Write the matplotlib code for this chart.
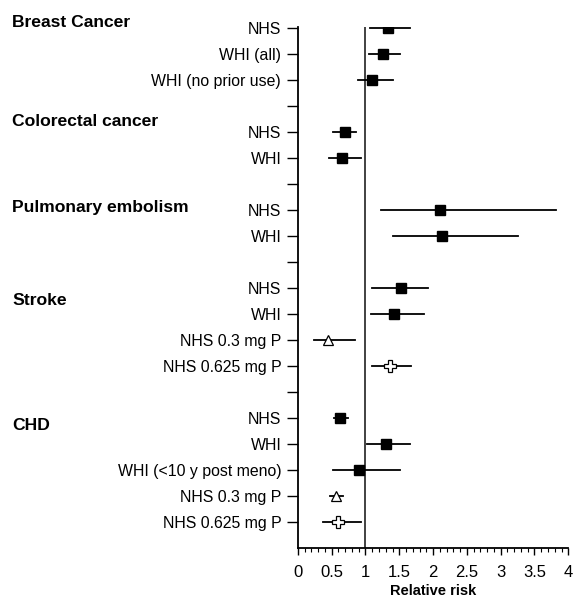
import numpy as np
import matplotlib.pyplot as plt
from matplotlib.ticker import MultipleLocator

plt.rcParams['font.family'] = ['Liberation Sans', 'DejaVu Sans']

# row labels (top to bottom), blank = spacer row
rows = ['NHS', 'WHI (all)', 'WHI (no prior use)', '',
        'NHS', 'WHI', '',
        'NHS', 'WHI', '',
        'NHS', 'WHI', 'NHS 0.3 mg P', 'NHS 0.625 mg P', '',
        'NHS', 'WHI', 'WHI (<10 y post meno)', 'NHS 0.3 mg P', 'NHS 0.625 mg P']

# estimates and confidence limits (None for spacer rows)
rr = [1.33, 1.26, 1.09, None, 0.70, 0.65, None, 2.10, 2.13, None,
      1.53, 1.42, 0.44, 1.36, None, 0.62, 1.30, 0.90, 0.56, 0.59]
lo = [1.07, 1.05, 0.89, None, 0.52, 0.46, None, 1.23, 1.41, None,
      1.10, 1.08, 0.24, 1.10, None, 0.53, 1.02, 0.52, 0.47, 0.37]
hi = [1.66, 1.51, 1.41, None, 0.86, 0.93, None, 3.82, 3.26, None,
      1.93, 1.87, 0.84, 1.67, None, 0.74, 1.66, 1.51, 0.67, 0.93]
kind = ['s', 's', 's', None, 's', 's', None, 's', 's', None,
        's', 's', '^', 'P', None, 's', 's', 's', '^', 'P']

groups = ['Breast Cancer', 'Colorectal cancer', 'Pulmonary embolism', 'Stroke', 'CHD']
group_rows = [0.8, 4.6, 7.9, 11.5, 16.3]

xticks = np.arange(0, 4.01, 0.5)
xlabels = ['0', '0.5', '1', '1.5', '2', '2.5', '3', '3.5', '4']

fig = plt.figure(figsize=(5.74, 5.97), dpi=100)
ax = fig.add_axes([0.519, 0.082, 0.471, 0.873])

ypos = np.arange(1, len(rows) + 1)
for y, r, l, h, k in zip(ypos, rr, lo, hi, kind):
    if r is None:
        continue
    ax.plot([l, h], [y, y], color='black', lw=1.3, zorder=2)
    if k == 's':
        ax.plot(r, y, marker='s', ms=6.5, color='black', zorder=3)
    elif k == '^':
        ax.plot(r, y, marker='^', ms=7, mfc='white', mec='black', mew=0.9, zorder=3)
    else:
        ax.plot(r, y, marker='P', ms=8, mfc='white', mec='black', mew=0.9, zorder=3)

ax.axvline(1, color='#333333', lw=1.3, zorder=1)

ax.set_xlim(0, 4)
ax.set_ylim(21, 0.96)
ax.set_yticks(ypos)
ax.set_yticklabels(rows, fontsize=11.4)
ax.set_xticks(xticks)
ax.set_xticklabels(xlabels, fontsize=12)
ax.xaxis.set_minor_locator(MultipleLocator(0.1))
ax.tick_params(axis='y', length=8, width=1, pad=4)
ax.tick_params(axis='x', which='major', length=5, width=1, pad=7)
ax.tick_params(axis='x', which='minor', length=3, width=0.8)
ax.set_xlabel('Relative risk', fontsize=10.5, fontweight='bold', labelpad=3)

for s in ['top', 'right']:
    ax.spines[s].set_visible(False)
for s in ['left', 'bottom']:
    ax.spines[s].set_linewidth(1.3)

# group headings, placed in figure-x / data-y coordinates
trans = plt.matplotlib.transforms.blended_transform_factory(fig.transFigure, ax.transData)
for g, gy in zip(groups, group_rows):
    fig.text(12 / 574, gy, g, transform=trans,
             fontsize=12.6, fontweight='bold', va='center', ha='left')

plt.savefig('out.png', dpi=100)
